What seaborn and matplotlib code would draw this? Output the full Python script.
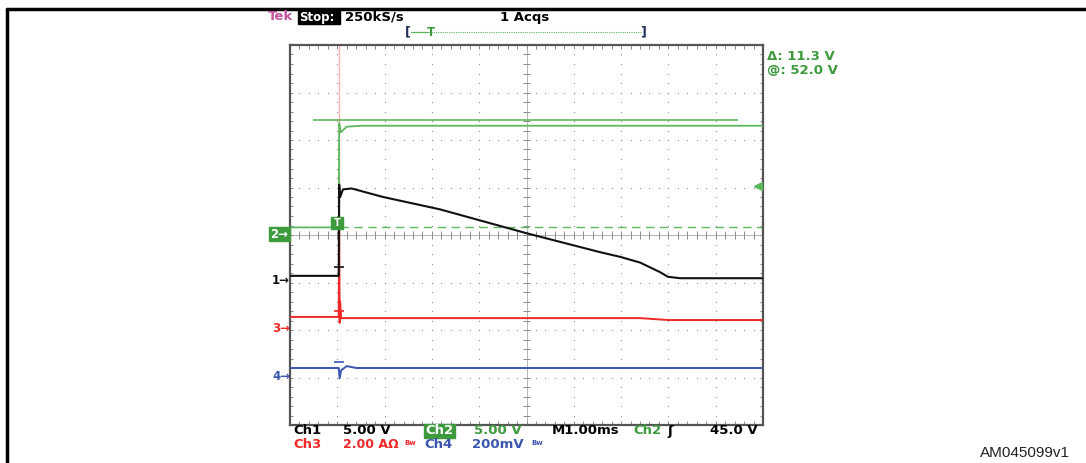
import numpy as np
import seaborn as sns
import matplotlib
matplotlib.use("Agg")
import matplotlib.pyplot as plt
from matplotlib.lines import Line2D
from matplotlib.patches import Rectangle

# ---- data ----
# time axis in ms (M1.00ms -> 1 ms/div, 10 divisions)
t_ch1 = [0.0, 1.03, 1.04, 1.06, 1.12, 1.30, 1.97, 3.17, 4.99, 6.55, 6.98, 7.40, 7.82, 7.99, 8.25, 10.0]
v_ch1 = [0.7, 0.7, 10.3, 9.0, 9.8, 9.9, 9.0, 7.7, 5.2, 3.2, 2.7, 2.1, 1.1, 0.6, 0.45, 0.45]   # V

t_ch2 = [0.0, 1.03, 1.04, 1.07, 1.20, 1.50, 10.0]
v_ch2 = [0.8, 0.8, 11.8, 10.8, 11.4, 11.5, 11.5]   # V

t_ch3 = [0.0, 1.03, 1.04, 1.05, 1.06, 1.08, 1.20, 7.40, 8.00, 10.0]
a_ch3 = [0.55, 0.55, 4.5, 0.3, 1.2, 0.5, 0.5, 0.5, 0.42, 0.42]   # A

t_ch4 = [0.0, 1.03, 1.05, 1.08, 1.20, 1.40, 10.0]
mv_ch4 = [40, 40, -4, 30, 48, 40, 40]   # mV

# channel settings: (scale per div, ground position in div)
scale = {"ch1": 5.0, "ch2": 5.0, "ch3": 2.0, "ch4": 200.0}
ground = {"ch1": 3.0, "ch2": 4.0, "ch3": 2.0, "ch4": 1.0}

t_trig = 1.05
trig_level_v = 0.85      # Ch2 dashed level
cursor_v = 12.1          # horizontal cursor on Ch2
cursor_span = (0.49, 9.47)

col_ch1 = "#111111"
col_ch2 = "#5cb85c"
col_ch3 = "#f02828"
col_ch4 = "#3a56b0"
col_grid = "#8a8a8a"

sns.set_style("white")
plt.rcParams["font.family"] = ["DejaVu Sans"]

W, H = 1086, 463
fig = plt.figure(figsize=(W / 100, H / 100), dpi=100)

def fx(x):
    return x / W

def fy(y):
    return 1 - y / H

# scope screen axes: x 290..763 px, y 45..425 px
ax = fig.add_axes([fx(290), fy(425), fx(763) - fx(290), fy(45) - fy(425)])
ax.set_xlim(0, 10)
ax.set_ylim(0, 8)
ax.set_xticks([])
ax.set_yticks([])
for s in ax.spines.values():
    s.set_color("#555555")
    s.set_linewidth(1.6)

# dotted graticule
minor = np.arange(0, 10.01, 0.2)
minor_y = np.arange(0, 8.01, 0.2)
for i in range(1, 10):
    if i == 5:
        continue
    ax.scatter(np.full_like(minor_y, i), minor_y, s=0.8, color=col_grid, lw=0, zorder=1)
for j in range(1, 8):
    if j == 4:
        continue
    ax.scatter(minor, np.full_like(minor, j), s=0.8, color=col_grid, lw=0, zorder=1)
# centre cross with ticks
ax.axhline(4, color="#aaaaaa", lw=0.6, zorder=1)
ax.axvline(5, color="#aaaaaa", lw=0.6, zorder=1)
ax.vlines(minor, 3.92, 4.08, color=col_grid, lw=0.7, zorder=1)
ax.hlines(minor_y, 4.93, 5.07, color=col_grid, lw=0.7, zorder=1)
# edge ticks
ax.vlines(minor, 0, 0.08, color=col_grid, lw=0.7)
ax.vlines(minor, 7.92, 8, color=col_grid, lw=0.7)
ax.hlines(minor_y, 0, 0.06, color=col_grid, lw=0.7)
ax.hlines(minor_y, 9.94, 10, color=col_grid, lw=0.7)

def to_div(vals, ch):
    return [ground[ch] + v / scale[ch] for v in vals]

# trigger level dashed line and cursor
lvl = ground["ch2"] + trig_level_v / scale["ch2"]
ax.hlines(lvl, t_trig, 10, color=col_ch2, lw=1.0, linestyles=(0, (6, 4)), zorder=2)
cur = ground["ch2"] + cursor_v / scale["ch2"]
ax.hlines(cur, cursor_span[0], cursor_span[1], color=col_ch2, lw=1.2, zorder=2)

# faint fast edge of Ch3 going off screen
ax.vlines(t_trig - 0.01, to_div([4.5], "ch3")[0], 8, color=col_ch3, lw=1.0, alpha=0.35, zorder=2)

sns.lineplot(x=t_ch2, y=to_div(v_ch2, "ch2"), estimator=None, sort=False, color=col_ch2, lw=1.3, ax=ax, zorder=3)
sns.lineplot(x=t_ch3, y=to_div(a_ch3, "ch3"), estimator=None, sort=False, color=col_ch3, lw=1.4, ax=ax, zorder=3)
sns.lineplot(x=t_ch4, y=to_div(mv_ch4, "ch4"), estimator=None, sort=False, color=col_ch4, lw=1.4, ax=ax, zorder=3)
sns.lineplot(x=t_ch1, y=to_div(v_ch1, "ch1"), estimator=None, sort=False, color=col_ch1, lw=1.5, ax=ax, zorder=4)
ax.set_xlabel("")
ax.set_ylabel("")

# small T-shaped edge markers
for ch, yv, c in [("ch1", 3.33, col_ch1), ("ch3", 2.40, col_ch3), ("ch4", 1.32, col_ch4)]:
    ax.plot([t_trig - 0.02], [yv], marker="_", ms=7, mew=1.2, color=c, zorder=5)

# right edge level marker
ax.plot([9.9], [5.03], marker="<", ms=6, color=col_ch2, zorder=5, clip_on=False)

# trigger box
ax.add_patch(Rectangle((0.87, 4.12), 0.26, 0.26, color="#3d9a3d", zorder=6))
ax.text(1.0, 4.25, "T", color="white", fontsize=7, fontweight="bold", ha="center", va="center", zorder=7)

# ---- texts around the screen ----
fs = 9.5
def t(x, y, s, c="black", size=fs, weight="bold", **kw):
    fig.text(fx(x), fy(y), s, color=c, fontsize=size, fontweight=weight, ha="left", va="center", **kw)

# header
t(268, 17, "Tek", "#c453a0")
fig.patches.append(Rectangle((fx(298), fy(24)), fx(340) - fx(298), fy(11) - fy(24),
                             transform=fig.transFigure, color="black"))
t(299, 17, "Stop:", "white", size=8.5)
t(345, 17, "250kS/s")
t(500, 17, "1 Acqs")
t(405, 32, "[", "#1e2d5a", size=9)
t(640, 32, "]", "#1e2d5a", size=9)
fig.add_artist(Line2D([fx(411), fx(641)], [fy(32), fy(32)], color=col_ch2, lw=0.8, ls=(0, (1, 1))))
fig.add_artist(Line2D([fx(411), fx(428)], [fy(32), fy(32)], color=col_ch2, lw=0.9))
t(427, 32, "T", "#3d9a3d", size=8.5)

# cursor readouts
t(767, 57, "Δ: 11.3 V", "#3d9a3d")
t(767, 71, "@: 52.0 V", "#3d9a3d")

# channel ground markers
fig.patches.append(Rectangle((fx(269), fy(241)), fx(290) - fx(269), fy(227) - fy(241),
                             transform=fig.transFigure, color="#3d9a3d"))
t(270, 234, "2→", "white", size=8.5)
t(272, 281, "1→", "#111111", size=8.5)
t(272, 328, "3→", col_ch3, size=8.5)
t(272, 377, "4→", col_ch4, size=8.5)

# footer
t(293, 431, "Ch1")
t(343, 431, "5.00 V")
fig.patches.append(Rectangle((fx(424), fy(438)), fx(455) - fx(424), fy(424) - fy(438),
                             transform=fig.transFigure, color="#3d9a3d"))
t(425, 431, "Ch2", "white")
t(474, 431, "5.00 V", "#3d9a3d")
t(552, 431, "M1.00ms")
t(633, 431, "Ch2", "#3d9a3d")
t(667, 431, "ʃ")
t(710, 431, "45.0 V")
t(293, 445, "Ch3", col_ch3)
t(343, 445, "2.00 AΩ", col_ch3, size=9)
t(404, 443, "Bw", col_ch3, size=5)
t(424, 445, "Ch4", col_ch4)
t(472, 445, "200mV", col_ch4)
t(531, 443, "Bw", col_ch4, size=5)

fig.text(fx(980), fy(453), "AM045099v1", color="#222222", fontsize=11, family="Liberation Sans",
         ha="left", va="center")

# outer figure frame (top and left)
fig.add_artist(Line2D([fx(7), fx(1086)], [fy(9), fy(9)], color="black", lw=2.5))
fig.add_artist(Line2D([fx(7), fx(7)], [fy(9), fy(463)], color="black", lw=2.5))

fig.savefig("out.png", dpi=100)
